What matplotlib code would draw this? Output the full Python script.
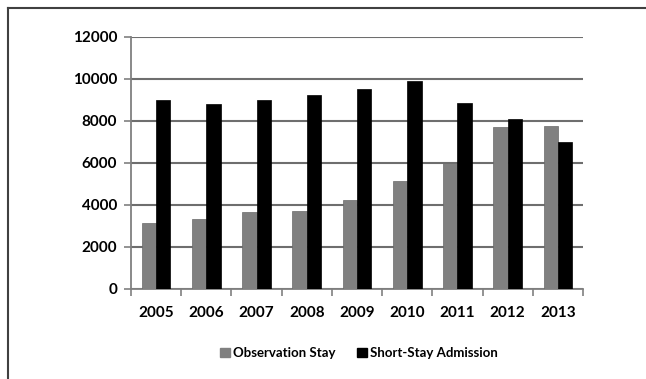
import matplotlib
matplotlib.use("Agg")
import matplotlib.pyplot as plt
import numpy as np
from matplotlib.lines import Line2D
from matplotlib.patches import Patch

years = ["2005", "2006", "2007", "2008", "2009", "2010", "2011", "2012", "2013"]
observation_stay = [3140, 3350, 3660, 3710, 4240, 5130, 6000, 7710, 7750]
short_stay_admission = [9020, 8800, 9020, 9220, 9540, 9900, 8860, 8090, 7010]
y_ticks = [0, 2000, 4000, 6000, 8000, 10000, 12000]

plt.rcParams['font.family'] = ['Lato', 'DejaVu Sans']

W, H = 646, 379
fig = plt.figure(figsize=(W / 100, H / 100), dpi=100)
ax = fig.add_axes([131 / W, 1 - 289 / H, (583 - 131) / W, (289 - 37) / H])

x = np.arange(len(years))
bw = 0.2857
ax.bar(x - bw / 2, observation_stay, bw, color="#808080", edgecolor="#6a6a6a", linewidth=0.5,
       label="Observation Stay", zorder=3)
ax.bar(x + bw / 2, short_stay_admission, bw, color="#000000", edgecolor="#000000", linewidth=0.5,
       label="Short-Stay Admission", zorder=3)

ax.set_xlim(-0.5, len(years) - 0.5)
ax.set_ylim(0, 12000)
ax.set_yticks(y_ticks)
ax.set_yticklabels([str(v) for v in y_ticks], fontsize=11, fontweight="bold")
ax.set_xticks(x)
ax.set_xticklabels(years, fontsize=11, fontweight="bold")
ax.tick_params(axis="x", length=0, pad=12)
ax.set_xticks(np.arange(-0.5, len(years), 1), minor=True)
ax.tick_params(axis="x", which="minor", length=5, width=1.2, color="#808080", direction="out")
ax.tick_params(axis="y", length=5, width=1.2, color="#808080", direction="out", pad=5)

ax.yaxis.grid(True, color="#6e6e6e", linewidth=1.5, zorder=0)
ax.set_axisbelow(True)
for s in ["top", "right"]:
    ax.spines[s].set_visible(False)
for s in ["left", "bottom"]:
    ax.spines[s].set_color("#808080")
    ax.spines[s].set_linewidth(1.3)

handles = [Patch(facecolor="#808080", edgecolor="#808080"),
           Patch(facecolor="#000000", edgecolor="#000000")]
fig.legend(handles, ["Observation Stay", "Short-Stay Admission"],
           loc="center", bbox_to_anchor=(359 / W, 1 - 353 / H), ncol=2, frameon=False,
           prop={"size": 9.5, "weight": "bold"}, handlelength=0.75, handleheight=0.75,
           handletextpad=0.25, columnspacing=1.6)

# outer frame (top and left edges)
fig.add_artist(Line2D([8 / W, 1], [1 - 8 / H, 1 - 8 / H], transform=fig.transFigure,
                      color="#404040", linewidth=1.5))
fig.add_artist(Line2D([8 / W, 8 / W], [0, 1 - 8 / H], transform=fig.transFigure,
                      color="#404040", linewidth=1.5))

fig.savefig("out.png", dpi=100)
